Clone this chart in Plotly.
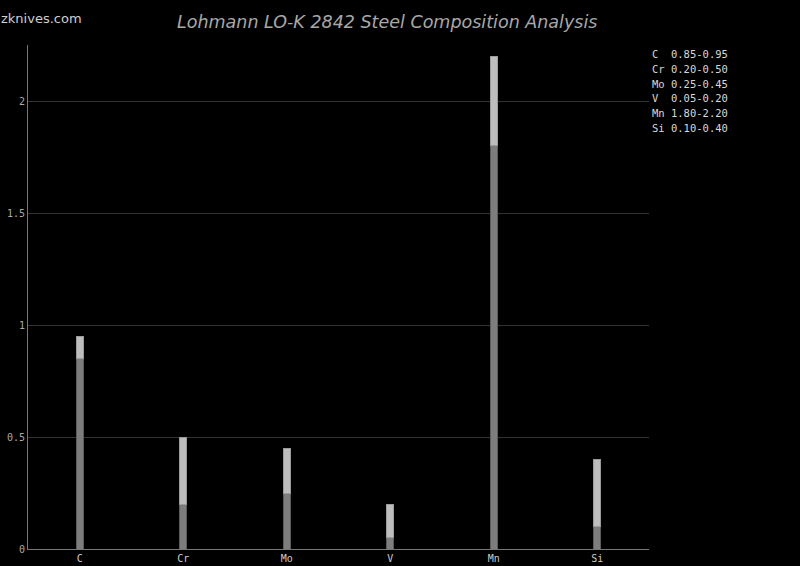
import plotly.graph_objects as go

elements = ["C", "Cr", "Mo", "V", "Mn", "Si"]
min_vals = [0.85, 0.20, 0.25, 0.05, 1.80, 0.10]
max_vals = [0.95, 0.50, 0.45, 0.20, 2.20, 0.40]
y_ticks = [0, 0.5, 1, 1.5, 2]
y_tick_labels = ["0", "0.5", "1", "1.5", "2"]

range_part = [mx - mn for mn, mx in zip(min_vals, max_vals)]

fig = go.Figure()
fig.add_trace(go.Bar(x=elements, y=min_vals, width=0.07,
                     marker=dict(color="#7d7d7d", line=dict(color="#5c5c5c", width=1)),
                     hoverinfo="y"))
fig.add_trace(go.Bar(x=elements, y=range_part, width=0.07,
                     marker=dict(color="#bdbdbd", line=dict(color="#9a9a9a", width=1)),
                     hoverinfo="y"))

legend_lines = [f"{e:<2} {mn:.2f}-{mx:.2f}" for e, mn, mx in zip(elements, min_vals, max_vals)]
for i, line in enumerate(legend_lines):
    fig.add_annotation(text=line, xref="paper", yref="paper",
                       x=1.0, y=1.0, xshift=1, yshift=-1 - i * 14.8,
                       xanchor="left", yanchor="top", align="left",
                       showarrow=False,
                       font=dict(family="DejaVu Sans Mono", size=10.5, color="#d8d8d8"))
fig.add_annotation(text="zknives.com", xref="paper", yref="paper",
                   x=0, y=1, xanchor="left", yanchor="bottom", xshift=-29, yshift=17,
                   showarrow=False,
                   font=dict(family="DejaVu Sans", size=13, color="#cfcfcf"))

fig.update_layout(
    barmode="stack",
    showlegend=False,
    paper_bgcolor="#000000",
    plot_bgcolor="#000000",
    width=800, height=566,
    margin=dict(l=28, r=151, t=45, b=17, autoexpand=False),
    title=dict(text="Lohmann LO-K 2842 Steel Composition Analysis",
               x=0.484, xanchor="center", y=0.962, yanchor="middle",
               font=dict(family="DejaVu Sans", size=17.5, color="#a8a8a8", style="italic")),
    xaxis=dict(showgrid=False, showline=True, linecolor="#777", linewidth=1, automargin=False,
               ticks="", tickfont=dict(family="DejaVu Sans Mono", size=10, color="#cccccc"),
               ticklabelstandoff=0),
    yaxis=dict(range=[0, 2.25], tickvals=y_ticks, ticktext=y_tick_labels, automargin=False,
               showgrid=True, gridcolor="#333333", gridwidth=1,
               showline=True, linecolor="#777", linewidth=1, zeroline=False,
               ticks="", tickfont=dict(family="DejaVu Sans Mono", size=10, color="#aaaaaa")),
)
fig.write_html("out.html", config={"displayModeBar": False},
               post_script="document.body.style.margin='0';document.body.style.padding='0';")
